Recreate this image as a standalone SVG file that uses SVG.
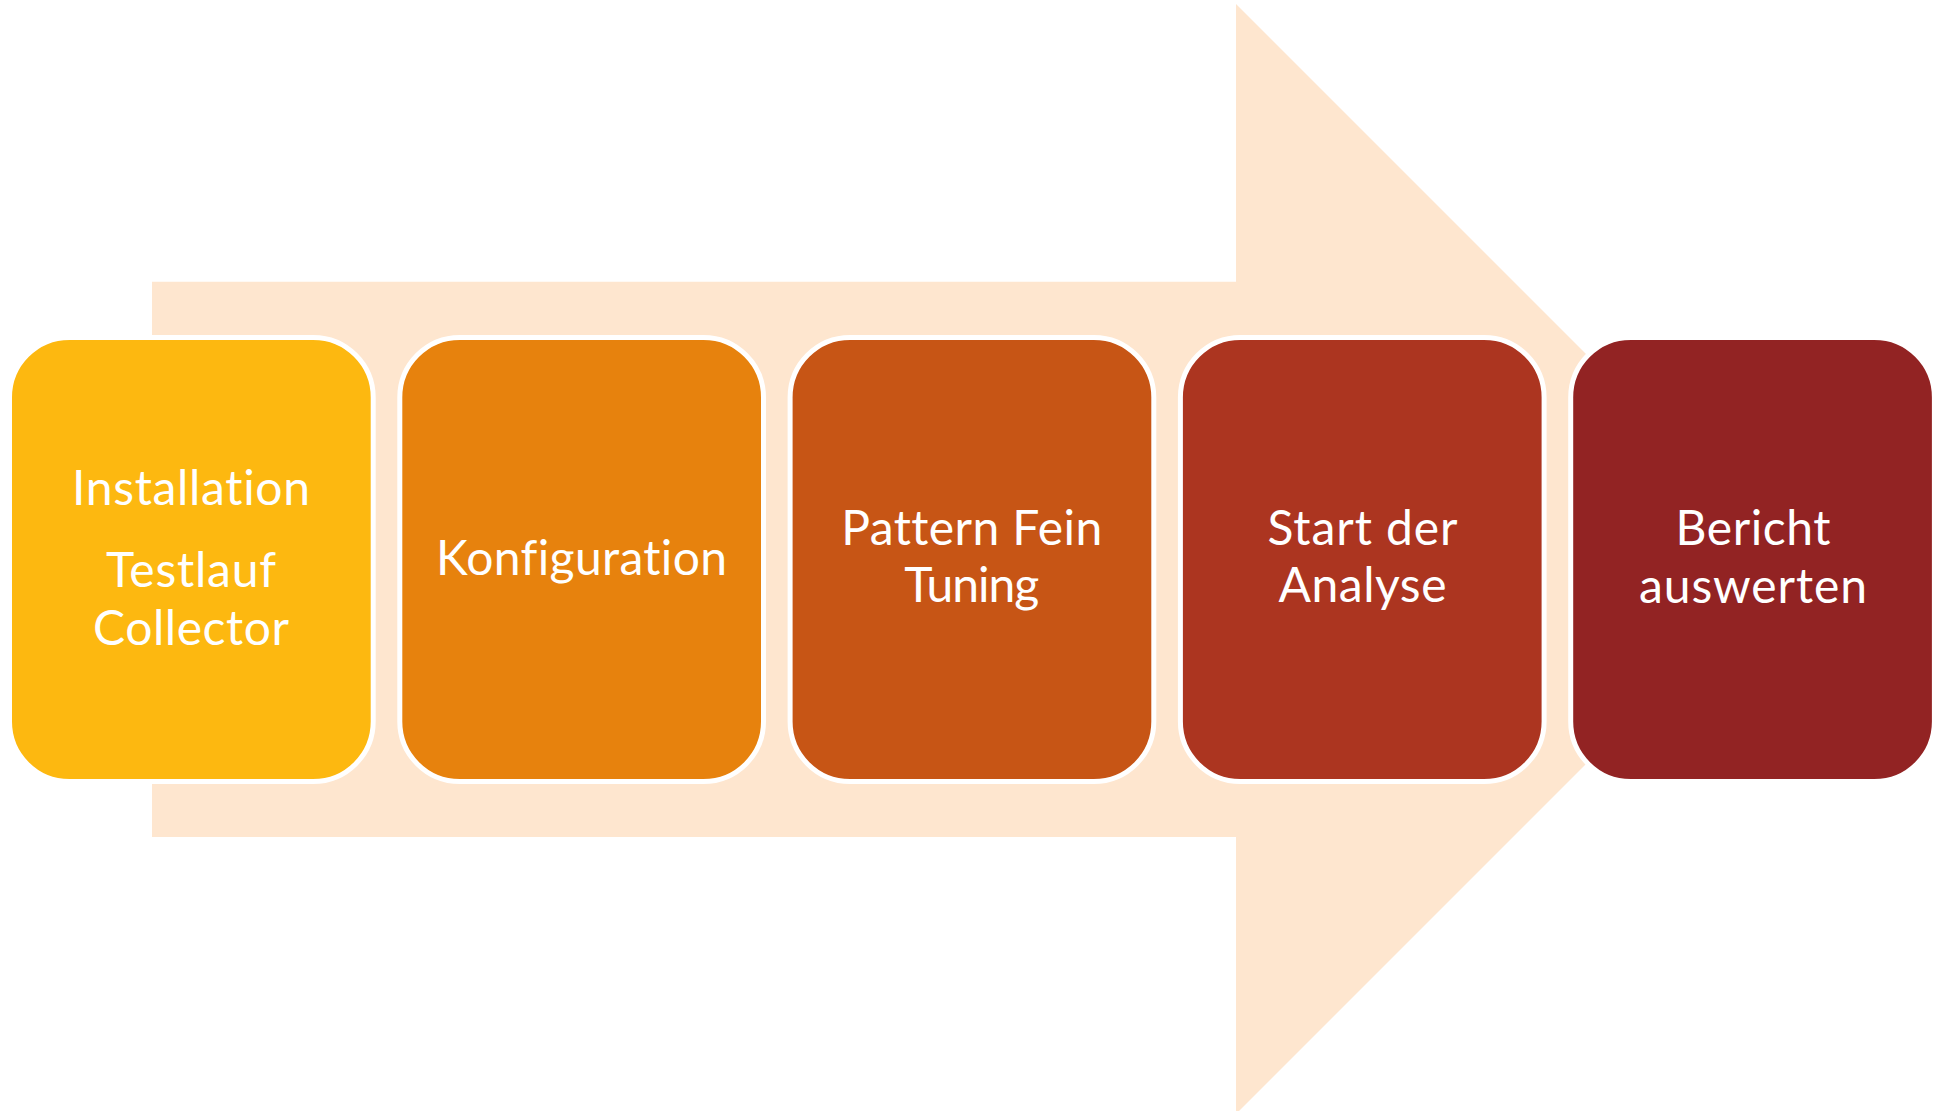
<svg xmlns="http://www.w3.org/2000/svg" width="1941" height="1111" viewBox="0 0 1941 1111">
  <style>
    .step { stroke: #FFFFFF; stroke-width: 5; }
    .label { font-family: Lato, "Open Sans", sans-serif; font-size: 48px; fill: #FFFFFF; text-anchor: middle; font-variant-ligatures: none; font-feature-settings: "liga" 0, "clig" 0; }
  </style>
  <rect width="1941" height="1111" fill="#FFFFFF"/>

  <!-- Background block arrow -->
  <g id="connectors">
    <polygon id="flow-arrow" points="152,281.7 1236,281.7 1236,4 1791,559 1236,1114 1236,837 152,837" fill="#FEE6CF"/>
  </g>

  <g id="step-installation">
    <rect class="step" x="9.5" y="337.5" width="363.7" height="444" rx="60" fill="#FDB810"/>
    <text class="label" x="191" y="505" textLength="238" lengthAdjust="spacing">Installation</text>
    <text class="label" x="191" y="586.7" textLength="170" lengthAdjust="spacing">Testlauf</text>
    <text class="label" x="191" y="645" textLength="196" lengthAdjust="spacing">Collector</text>
  </g>

  <g id="step-konfiguration">
    <rect class="step" x="399.8" y="337.5" width="363.7" height="444" rx="60" fill="#E7820D"/>
    <text class="label" x="581.5" y="575" textLength="291" lengthAdjust="spacing">Konfiguration</text>
  </g>

  <g id="step-pattern">
    <rect class="step" x="790.1" y="337.5" width="363.7" height="444" rx="60" fill="#C75515"/>
    <text class="label" x="971.8" y="545" textLength="261" lengthAdjust="spacing">Pattern Fein</text>
    <text class="label" x="971.8" y="601.7" textLength="135" lengthAdjust="spacing">Tuning</text>
  </g>

  <g id="step-analyse">
    <rect class="step" x="1180.4" y="337.5" width="363.7" height="444" rx="60" fill="#AC3520"/>
    <text class="label" x="1362.5" y="545" textLength="190" lengthAdjust="spacing">Start der</text>
    <text class="label" x="1362.5" y="601.7" textLength="168" lengthAdjust="spacing">Analyse</text>
  </g>

  <g id="step-bericht">
    <rect class="step" x="1570.7" y="337.5" width="363.7" height="444" rx="60" fill="#922323"/>
    <text class="label" x="1753" y="545" textLength="155" lengthAdjust="spacing">Bericht</text>
    <text class="label" x="1753" y="603" textLength="228" lengthAdjust="spacing">auswerten</text>
  </g>
</svg>
